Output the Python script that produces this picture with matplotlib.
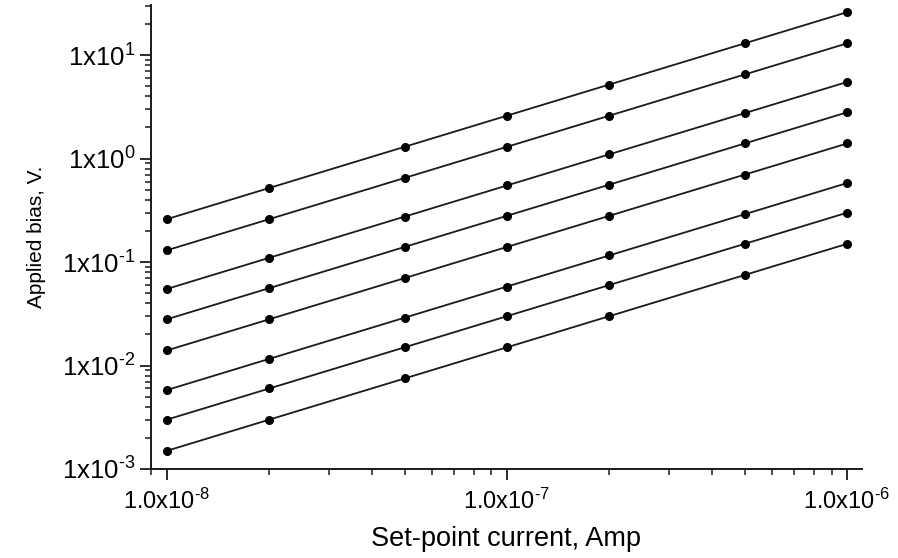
import matplotlib
matplotlib.use("Agg")
import matplotlib.pyplot as plt
from matplotlib.ticker import LogLocator, FixedLocator, NullFormatter

plt.rcParams['font.family'] = ['Liberation Sans', 'DejaVu Sans']
plt.rcParams['mathtext.fontset'] = 'custom'
plt.rcParams['mathtext.rm'] = 'Liberation Sans'
plt.rcParams['mathtext.it'] = 'Liberation Sans:italic'
plt.rcParams['mathtext.bf'] = 'Liberation Sans:bold'

# Set-point current (A)
current = [1e-8, 2e-8, 5e-8, 1e-7, 2e-7, 5e-7, 1e-6]

# Applied bias (V) for each series
s1 = [0.26, 0.52, 1.3, 2.6, 5.2, 13.0, 26.0]
s2 = [0.13, 0.26, 0.65, 1.3, 2.6, 6.5, 13.0]
s3 = [0.055, 0.11, 0.275, 0.55, 1.1, 2.75, 5.5]
s4 = [0.028, 0.056, 0.14, 0.28, 0.56, 1.4, 2.8]
s5 = [0.014, 0.028, 0.07, 0.14, 0.28, 0.7, 1.4]
s6 = [0.0058, 0.0116, 0.029, 0.058, 0.116, 0.29, 0.58]
s7 = [0.003, 0.006, 0.015, 0.03, 0.06, 0.15, 0.3]
s8 = [0.0015, 0.003, 0.0075, 0.015, 0.03, 0.075, 0.15]
series = [s1, s2, s3, s4, s5, s6, s7, s8]

xticks = [1e-8, 1e-7, 1e-6]
xticklabels = ['$\\mathregular{1.0x10^{\u20108}}$', '$\\mathregular{1.0x10^{\u20107}}$',
               '$\\mathregular{1.0x10^{\u20106}}$']
yticks = [1e-3, 1e-2, 1e-1, 1e0, 1e1]
yticklabels = ['$\\mathregular{1x10^{\u20103}}$', '$\\mathregular{1x10^{\u20102}}$',
               '$\\mathregular{1x10^{\u20101}}$', '$\\mathregular{1x10^{0}}$', '$\\mathregular{1x10^{1}}$']

fig = plt.figure(figsize=(8.98, 5.58), dpi=100)
ax = fig.add_axes([0.168, 0.1595, 0.792, 0.8315])

for s in series:
    ax.plot(current, s, color='#1a1a1a', lw=1.3, marker='o', ms=5.5, mfc='black', mec='black')

ax.set_xscale('log')
ax.set_yscale('log')
ax.set_xlim(8.97e-9, 1.107e-6)
ax.set_ylim(1e-3, 30.5)

ax.xaxis.set_major_locator(FixedLocator(xticks))
ax.set_xticklabels(xticklabels)
ax.yaxis.set_major_locator(FixedLocator(yticks))
ax.set_yticklabels(yticklabels)
ax.xaxis.set_minor_locator(LogLocator(base=10, subs=range(2, 10), numticks=20))
ax.yaxis.set_minor_locator(LogLocator(base=10, subs=range(2, 10), numticks=20))
ax.xaxis.set_minor_formatter(NullFormatter())
ax.yaxis.set_minor_formatter(NullFormatter())

for sp in ['top', 'right']:
    ax.spines[sp].set_visible(False)
for sp in ['left', 'bottom']:
    ax.spines[sp].set_linewidth(1.4)
    ax.spines[sp].set_color('#1a1a1a')

ax.tick_params(which='major', direction='out', length=8, width=1.3, color='#1a1a1a')
ax.tick_params(which='minor', direction='out', length=4.5, width=1.1, color='#1a1a1a')
ax.tick_params(axis='y', which='major', labelsize=18.5, pad=3)
ax.tick_params(axis='x', which='major', labelsize=17, pad=6)

ax.set_xlabel('Set-point current, Amp', fontsize=19.5, labelpad=9)
ax.set_ylabel('Applied bias, V.', fontsize=15, labelpad=12)

fig.savefig('out.png', dpi=100)
